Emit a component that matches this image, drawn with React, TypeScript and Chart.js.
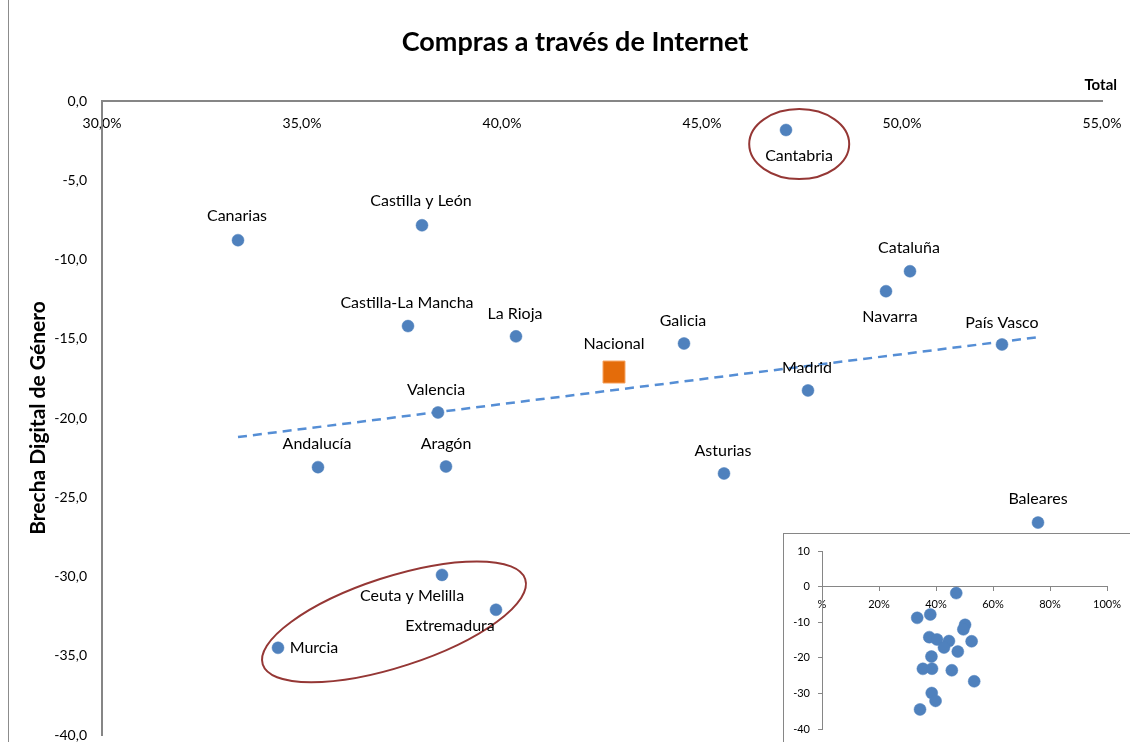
import React, { useEffect, useRef } from 'react';
import { Chart, registerables } from 'chart.js';

Chart.register(...registerables);

// ---- data ----
const regions = [
  'Cantabria', 'Canarias', 'Castilla y León', 'Cataluña', 'Navarra',
  'Castilla-La Mancha', 'La Rioja', 'Galicia', 'País Vasco', 'Madrid',
  'Valencia', 'Andalucía', 'Aragón', 'Asturias', 'Baleares',
  'Ceuta y Melilla', 'Extremadura', 'Murcia',
];
const totalPct = [
  47.1, 33.4, 38.0, 50.2, 49.6,
  37.65, 40.35, 44.55, 52.5, 47.65,
  38.4, 35.4, 38.6, 45.55, 53.4,
  38.5, 39.85, 34.4,
];
const brecha = [
  -1.83, -8.78, -7.84, -10.74, -12.0,
  -14.2, -14.85, -15.3, -15.36, -18.26,
  -19.65, -23.1, -23.06, -23.5, -26.6,
  -29.9, -32.1, -34.5,
];
const nationalName = 'Nacional';
const nationalPct = [42.8];
const nationalBrecha = [-17.1];
const trendPct = [33.4, 53.4];
const trendBrecha = [-21.2, -14.9];

const titleText = 'Compras a través de Internet';
const xAxisTitle = 'Total';
const yAxisTitle = 'Brecha Digital de Género';

// highlight ellipses (center in data units)
const ellipseCenterPct = [47.43, 37.3];
const ellipseCenterBrecha = [-2.72, -32.86];

// ---- styles (pixel offsets of labels, ellipse shapes) ----
const labelOffsets: [number, number][] = [
  [13, 26], [-1, -24], [-1, -24], [-1, -23], [4, 26],
  [-1, -23], [-1, -23], [-1, -23], [0, -22], [-1, -23],
  [-2, -23], [-1, -23], [0, -23], [-1, -23], [0, -24],
  [-30, 21], [-46, 16], [36, 0],
];
const nationalOffset: [number, number] = [0, -28];
const ellipseShapes = [
  { rx: 50, ry: 35, rot: 0 },
  { rx: 138, ry: 45, rot: (-18 * Math.PI) / 180 },
];

const FONT = 'Lato, "Noto Sans", sans-serif';
const BLUE = '#4F81BD';
const AXIS = '#868686';

const fmtComma = (v: number, d: number) => v.toFixed(d).replace('.', ',');

const noPad = (s: any) => {
  s.paddingTop = 0;
  s.paddingBottom = 0;
  s.paddingLeft = 0;
  s.paddingRight = 0;
};

const decorPlugin = {
  id: 'decor',
  afterDatasetsDraw(chart: any) {
    const { ctx, scales } = chart;
    const xs = scales.x;
    const ys = scales.y;
    ctx.save();
    // ellipses
    ctx.strokeStyle = '#953735';
    ctx.lineWidth = 2;
    ellipseShapes.forEach((e, i) => {
      const cx = xs.getPixelForValue(ellipseCenterPct[i]);
      const cy = ys.getPixelForValue(ellipseCenterBrecha[i]);
      ctx.beginPath();
      ctx.ellipse(cx, cy, e.rx, e.ry, e.rot, 0, Math.PI * 2);
      ctx.stroke();
    });
    // data labels
    ctx.fillStyle = '#000';
    ctx.font = `16px ${FONT}`;
    ctx.textAlign = 'center';
    ctx.textBaseline = 'middle';
    regions.forEach((name, i) => {
      const px = xs.getPixelForValue(totalPct[i]);
      const py = ys.getPixelForValue(brecha[i]);
      ctx.fillText(name, px + labelOffsets[i][0], py + labelOffsets[i][1]);
    });
    const nx = xs.getPixelForValue(nationalPct[0]);
    const ny = ys.getPixelForValue(nationalBrecha[0]);
    ctx.fillText(nationalName, nx + nationalOffset[0], ny + nationalOffset[1]);
    ctx.restore();
  },
  afterDraw(chart: any) {
    const { ctx } = chart;
    ctx.save();
    // left frame line
    ctx.strokeStyle = '#8C8C8C';
    ctx.lineWidth = 1;
    ctx.beginPath();
    ctx.moveTo(8.5, 0);
    ctx.lineTo(8.5, chart.height);
    ctx.stroke();
    // title
    ctx.fillStyle = '#000';
    ctx.textAlign = 'center';
    ctx.textBaseline = 'middle';
    ctx.font = `bold 27px ${FONT}`;
    ctx.fillText(titleText, 575, 42);
    // x axis title
    ctx.textAlign = 'right';
    ctx.font = `bold 15px ${FONT}`;
    ctx.fillText(xAxisTitle, 1117, 85);
    // y axis title
    ctx.translate(38, 418);
    ctx.rotate(-Math.PI / 2);
    ctx.textAlign = 'center';
    ctx.font = `bold 21px ${FONT}`;
    ctx.fillText(yAxisTitle, 0, 0);
    ctx.restore();
  },
};

function MainChart() {
  const ref = useRef<HTMLCanvasElement | null>(null);
  useEffect(() => {
    if (!ref.current) return;
    const chart = new Chart(ref.current, {
      type: 'scatter',
      data: {
        datasets: [
          {
            label: nationalName,
            data: [{ x: nationalPct[0], y: nationalBrecha[0] }],
            pointStyle: 'rect',
            pointRadius: 15.5,
            backgroundColor: '#E46C0A',
            borderColor: '#F59D56',
            borderWidth: 1,
            order: 0,
          },
          {
            label: 'Comunidades',
            data: regions.map((_, i) => ({ x: totalPct[i], y: brecha[i] })),
            pointRadius: 6,
            backgroundColor: BLUE,
            borderColor: BLUE,
            borderWidth: 0.5,
            order: 1,
          },
          {
            type: 'line',
            label: 'Tendencia',
            data: trendPct.map((x, i) => ({ x, y: trendBrecha[i] })),
            borderColor: '#558ED5',
            borderWidth: 2.5,
            borderDash: [9, 6],
            pointRadius: 0,
            fill: false,
            order: 2,
          } as any,
        ],
      },
      options: {
        responsive: false,
        animation: false,
        events: [],
        layout: { autoPadding: false, padding: { top: 101, right: 28, bottom: 7, left: 0 } },
        plugins: { legend: { display: false }, tooltip: { enabled: false }, title: { display: false } },
        scales: {
          x: {
            type: 'linear',
            min: 30,
            max: 55,
            position: { y: 0 } as any,
            afterFit: (s: any) => { s.height = 0; noPad(s); },
            grid: { display: true, drawOnChartArea: false, drawTicks: false, color: AXIS },
            border: { display: true, color: AXIS, width: 2 },
            ticks: {
              stepSize: 5,
              padding: 14,
              color: '#000',
              font: { family: FONT, size: 14 },
              callback: (v: any) => fmtComma(Number(v), 1) + '%',
            },
          },
          y: {
            type: 'linear',
            min: -40,
            max: 0,
            position: 'left',
            afterFit: (s: any) => { s.width = 102; noPad(s); },
            grid: { display: true, drawOnChartArea: false, drawTicks: false, color: AXIS },
            border: { display: true, color: AXIS, width: 2 },
            ticks: {
              stepSize: 5,
              padding: 15,
              color: '#000',
              font: { family: FONT, size: 14 },
              callback: (v: any) => fmtComma(Number(v), 1),
            },
          },
        },
      },
      plugins: [decorPlugin],
    });
    return () => chart.destroy();
  }, []);
  return <canvas ref={ref} width={1130} height={742} style={{ width: 1130, height: 742, display: 'block' }} />;
}

function InsetChart() {
  const ref = useRef<HTMLCanvasElement | null>(null);
  useEffect(() => {
    if (!ref.current) return;
    const allX = [...totalPct, ...nationalPct];
    const allY = [...brecha, ...nationalBrecha];
    const chart = new Chart(ref.current, {
      type: 'scatter',
      data: {
        datasets: [
          {
            label: 'Todos',
            data: allX.map((x, i) => ({ x, y: allY[i] })),
            pointRadius: 6,
            backgroundColor: BLUE,
            borderColor: BLUE,
            borderWidth: 0.5,
          },
        ],
      },
      options: {
        responsive: false,
        animation: false,
        events: [],
        layout: { autoPadding: false, padding: { top: 17, right: 23, bottom: 13, left: 0 } },
        plugins: { legend: { display: false }, tooltip: { enabled: false } },
        scales: {
          x: {
            type: 'linear',
            min: 0,
            max: 100,
            position: { y: 0 } as any,
            afterFit: (s: any) => { s.height = 0; noPad(s); },
            grid: { display: true, drawOnChartArea: false, drawTicks: true, tickLength: 4, color: AXIS },
            border: { display: true, color: AXIS, width: 1 },
            ticks: {
              stepSize: 20,
              padding: 7,
              color: '#000',
              font: { family: FONT, size: 11 },
              callback: (v: any) => (Number(v) === 0 ? '%' : v + '%'),
            },
          },
          y: {
            type: 'linear',
            min: -40,
            max: 10,
            position: 'left',
            afterFit: (s: any) => { s.width = 38; noPad(s); },
            grid: { display: true, drawOnChartArea: false, drawTicks: true, tickLength: 4, color: AXIS },
            border: { display: true, color: AXIS, width: 1 },
            ticks: {
              stepSize: 10,
              padding: 8,
              color: '#000',
              font: { family: FONT, size: 11 },
            },
          },
        },
      },
    });
    return () => chart.destroy();
  }, []);
  return <canvas ref={ref} width={346} height={208} style={{ width: 346, height: 208, display: 'block' }} />;
}

export default function App() {
  return (
    <div style={{ position: 'fixed', left: 0, top: 0, width: 1130, height: 742, background: '#fff', overflow: 'hidden' }}>
      <MainChart />
      <div
        style={{
          position: 'absolute',
          left: 783,
          top: 533,
          width: 347,
          height: 209,
          boxSizing: 'border-box',
          borderLeft: `1px solid ${AXIS}`,
          borderTop: `1px solid ${AXIS}`,
          background: '#fff',
        }}
      >
        <InsetChart />
      </div>
    </div>
  );
}
